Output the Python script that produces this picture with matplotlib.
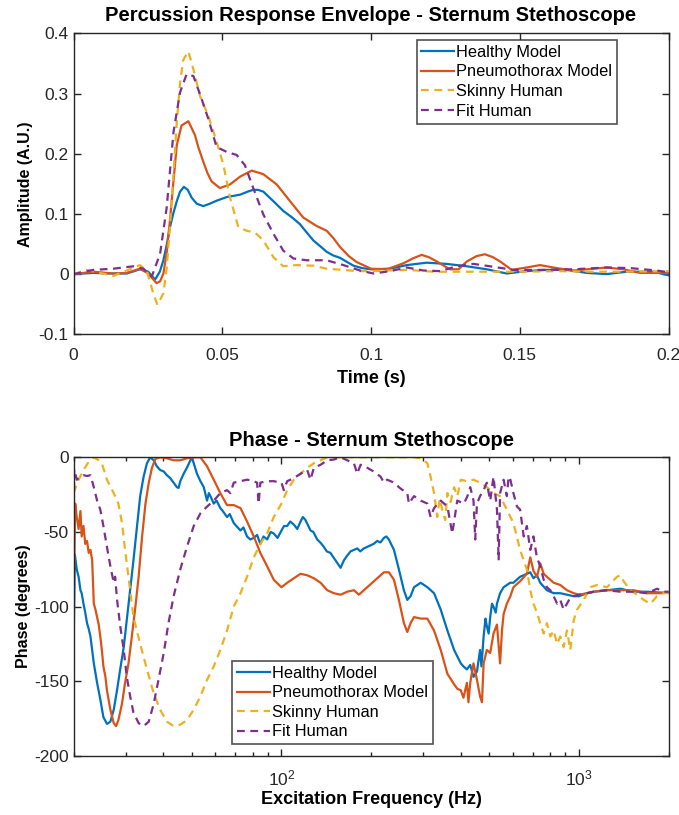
import matplotlib
matplotlib.use("Agg")
import matplotlib.pyplot as plt

# --- STYLE ---
plt.rcParams['font.family'] = ['Liberation Sans', 'DejaVu Sans']
plt.rcParams['axes.unicode_minus'] = False
C_BLUE = '#0072BD'
C_ORANGE = '#D95319'
C_YELLOW = '#EDB120'
C_PURPLE = '#7E2F8E'
AX_COL = '#262626'
DASH = (0, (3.5, 2.5))

labels = ['Healthy Model', 'Pneumothorax Model', 'Skinny Human', 'Fit Human']

# --- ENVELOPE DATA (time in s, amplitude A.U.) ---
t_healthy = [0, 0.0067, 0.0123, 0.0179, 0.0223, 0.0251, 0.0274, 0.0290, 0.0302, 0.0313,
             0.0324, 0.0336, 0.0347, 0.0358, 0.0371, 0.0384, 0.0397, 0.0414, 0.0436, 0.0458,
             0.0481, 0.0515, 0.0560, 0.0585, 0.0604, 0.0620, 0.0638, 0.0672, 0.0705, 0.0735,
             0.0761, 0.0784, 0.0806, 0.0830, 0.0851, 0.0873, 0.0896, 0.0920, 0.0941, 0.0970,
             0.1000, 0.1064, 0.1120, 0.1187, 0.1254, 0.1322, 0.1389, 0.1456, 0.1523, 0.1591,
             0.1658, 0.1725, 0.1792, 0.1859, 0.1949, 0.2000]
a_healthy = [0, 0.002, 0.001, 0.001, 0.008, 0.004, -0.009, 0.004, 0.023, 0.048,
             0.078, 0.102, 0.121, 0.137, 0.145, 0.140, 0.127, 0.117, 0.113, 0.117,
             0.122, 0.128, 0.132, 0.137, 0.140, 0.140, 0.137, 0.121, 0.105, 0.094,
             0.083, 0.069, 0.056, 0.046, 0.037, 0.031, 0.027, 0.020, 0.014, 0.010,
             0.008, 0.009, 0.015, 0.019, 0.017, 0.013, 0.008, 0.001, 0.005, 0.007,
             0.007, 0.002, 0.0, 0.004, 0.004, -0.002]

t_pneumo = [0, 0.0067, 0.0134, 0.0179, 0.0223, 0.0251, 0.0279, 0.0291, 0.0302, 0.0313,
            0.0324, 0.0336, 0.0347, 0.0363, 0.0386, 0.0408, 0.0420, 0.0436, 0.0450, 0.0464,
            0.0492, 0.0526, 0.0560, 0.0599, 0.0638, 0.0683, 0.0728, 0.0772, 0.0817, 0.0851,
            0.0873, 0.0896, 0.0925, 0.0952, 0.1000, 0.1053, 0.1109, 0.1140, 0.1170, 0.1195,
            0.1221, 0.1265, 0.1294, 0.1322, 0.1355, 0.1383, 0.1410, 0.1434, 0.1473, 0.1523,
            0.1568, 0.1624, 0.1680, 0.1748, 0.1792, 0.1848, 0.1904, 0.2000]
a_pneumo = [0, 0.004, 0.001, 0.002, 0.009, 0.001, -0.015, -0.012, 0.001, 0.035,
            0.089, 0.155, 0.214, 0.247, 0.254, 0.231, 0.210, 0.187, 0.168, 0.154,
            0.143, 0.149, 0.162, 0.172, 0.166, 0.149, 0.121, 0.094, 0.080, 0.072,
            0.060, 0.045, 0.030, 0.020, 0.009, 0.008, 0.018, 0.026, 0.032, 0.028,
            0.021, 0.008, 0.008, 0.021, 0.030, 0.033, 0.028, 0.021, 0.007, 0.011,
            0.015, 0.010, 0.006, 0.009, 0.011, 0.008, 0.002, 0.002]

t_skinny = [0, 0.0044, 0.0089, 0.0134, 0.0179, 0.0223, 0.0246, 0.0268, 0.0282, 0.0302,
            0.0313, 0.0324, 0.0336, 0.0347, 0.0358, 0.0369, 0.0386, 0.0403, 0.0425, 0.0453,
            0.0481, 0.0504, 0.0526, 0.0554, 0.0582, 0.0610, 0.0638, 0.0672, 0.0705, 0.0750,
            0.0806, 0.0851, 0.0907, 0.0952, 0.1008, 0.1120, 0.1210, 0.1288, 0.1400, 0.1512,
            0.1624, 0.1736, 0.1848, 0.2000]
a_skinny = [0, 0.007, 0.002, -0.003, 0.006, 0.015, 0.006, -0.032, -0.051, -0.032,
            0.010, 0.078, 0.165, 0.252, 0.318, 0.356, 0.370, 0.340, 0.296, 0.263,
            0.220, 0.181, 0.127, 0.078, 0.072, 0.069, 0.056, 0.028, 0.013, 0.015,
            0.014, 0.009, 0.007, 0.005, 0.005, 0.007, 0.004, 0.004, 0.004, 0.004,
            0.005, 0.004, 0.004, 0.005]

t_fit = [0, 0.0067, 0.0134, 0.0201, 0.0235, 0.0263, 0.0291, 0.0313, 0.0336, 0.0358,
         0.0380, 0.0403, 0.0425, 0.0453, 0.0481, 0.0515, 0.0548, 0.0576, 0.0604, 0.0638,
         0.0672, 0.0705, 0.0739, 0.0784, 0.0851, 0.0907, 0.0963, 0.1008, 0.1064, 0.1120,
         0.1176, 0.1232, 0.1288, 0.1344, 0.1400, 0.1479, 0.1568, 0.1680, 0.1792, 0.1871,
         0.1960, 0.2000]
a_fit = [0.0, 0.007, 0.009, 0.013, 0.009, -0.004, 0.034, 0.110, 0.236, 0.302,
         0.332, 0.329, 0.299, 0.258, 0.211, 0.203, 0.198, 0.181, 0.143, 0.099,
         0.067, 0.039, 0.026, 0.023, 0.023, 0.015, 0.006, 0.001, 0.005, 0.011,
         0.006, 0.005, 0.013, 0.017, 0.013, 0.007, 0.007, 0.008, 0.011, 0.010,
         0.006, 0.003]

# --- PHASE DATA (frequency in Hz, phase in degrees) ---
f_healthy = [20.0, 20.2, 20.5, 20.8, 21.1, 21.3, 21.6, 21.9, 22.2, 22.5,
             22.8, 23.1, 23.4, 24.0, 24.6, 25.2, 25.9, 26.6, 27.3, 28.0,
             28.7, 29.5, 30.2, 31.0, 31.8, 32.7, 33.5, 34.4, 35.3, 36.2,
             37.2, 38.1, 39.1, 40.2, 41.2, 42.3, 43.4, 44.5, 45.1, 45.7,
             46.9, 48.1, 49.4, 50.0, 50.7, 52.0, 53.4, 54.8, 56.2, 57.0,
             57.7, 59.2, 60.5, 62.3, 63.5, 65.6, 67.0, 69.1, 70.5, 72.8,
             74.5, 76.6, 78.5, 80.7, 82.8, 84.9, 87.0, 89.5, 92.0, 94.2,
             97.0, 100, 102, 104.5, 107, 110, 113, 115.9, 118, 120.4,
             125.2, 128, 131.8, 135, 138.8, 142, 146.1, 151.9, 158, 162.1,
             166, 170.7, 175, 179.7, 184, 189.2, 194, 199.3, 204, 209.8,
             215, 220.9, 225, 229.6, 238.8, 248.1, 257.9, 264.8, 271.6, 278.9,
             293.7, 309.3, 325.7, 343, 361.2, 380.4, 400.6, 409, 420, 431,
             442, 454, 465, 470, 478, 485, 490, 497, 503, 510,
             516, 525, 530, 543, 558, 572, 587, 602, 618, 634,
             651, 668, 686, 703, 722, 741, 780, 822, 865, 911,
             960, 1000, 1064, 1121, 1242, 1377, 1527, 1694, 1878, 2000]
p_healthy = [-131, -65, -75, -80, -89, -91, -98, -104, -111, -115,
             -120, -129, -138, -151, -162, -174, -178.5, -177, -169, -156,
             -142, -127, -109, -89, -69, -46, -26, -13, -4, 0,
             -2, -6, -8.5, -9.5, -12, -14, -17, -20, -20.5, -16,
             -11, -7, -2, 0, -4, -11, -16, -20, -29, -24,
             -26, -31, -29, -34, -36, -40, -38, -44, -46, -49,
             -47, -53, -55, -54, -52, -58, -53, -55, -50, -51,
             -54, -49, -46, -46, -43, -45, -48, -43, -40, -42,
             -49, -50, -55, -57, -60, -63, -64, -69, -74, -69,
             -66, -63, -62, -61, -63, -61, -60, -59, -58, -56,
             -57, -54, -53, -55, -62, -75, -89, -95.5, -93, -87,
             -84, -87, -91, -102, -116, -129, -138, -140, -142, -139,
             -147, -143.5, -129, -140, -120, -108, -113, -118, -107, -98,
             -100, -104, -98, -91, -87, -85.5, -84, -84, -82, -80,
             -79, -78, -77, -81, -79, -84, -89, -91, -91, -92,
             -93, -93, -91, -90, -89, -88, -90, -90, -90.6, -90.6]

f_pneumo = [20.0, 20.26, 20.5, 20.8, 21.1, 21.3, 21.6, 21.9, 22.2, 22.5,
            22.8, 23.1, 23.4, 23.7, 24.0, 24.3, 24.6, 24.9, 25.2, 25.6,
            25.9, 26.6, 27.3, 27.8, 28.3, 29.1, 29.8, 30.6, 31.4, 32.2,
            33.1, 34.0, 34.9, 35.8, 36.7, 37.7, 39.1, 41.2, 43.4, 45.7,
            48.1, 50.7, 53.4, 56.2, 59.2, 62.3, 65.6, 69.1, 72.8, 76.6,
            80.7, 84.9, 89.5, 94.2, 100, 104.5, 110, 115.9, 122, 128.5,
            135.3, 142.5, 150, 158, 166.3, 175.2, 182, 189.2, 199.3, 209.8,
            220.9, 229.6, 238.8, 248.1, 257.9, 264.8, 271.6, 278.9, 293.7, 309.3,
            325.7, 343, 361.2, 380.4, 390, 400.6, 409, 420, 425, 431,
            442, 454, 465, 472, 478, 490, 503, 516, 530, 543,
            551, 558, 572, 588, 602, 634, 668, 686, 703, 722,
            741, 761, 780, 822, 865, 911, 960, 1000, 1064, 1121,
            1242, 1377, 1527, 1694, 1878, 2000]
p_pneumo = [-100, -31, -40, -48, -36, -53, -46, -58, -56, -64,
            -62, -69, -98, -102, -107, -112, -120, -129, -140, -147,
            -156, -169, -178, -180, -176, -165, -151, -138, -120, -102,
            -80, -53, -31, -17, -7, -1, 0, -0.7, -2, -2,
            -0.7, 0, 0, -6, -15, -24, -32, -32, -34, -43,
            -53, -64, -73, -82, -87, -84, -81, -78, -79, -81,
            -84, -89, -91, -92, -90, -89, -92, -89, -85, -81,
            -77, -77, -82, -95.5, -111, -117, -111, -107, -108, -108,
            -116, -129, -145, -152, -155, -156, -161, -151, -164, -151,
            -138, -149, -160, -164, -138, -129, -131, -118, -112, -138,
            -116, -105, -98, -93, -87, -83, -78, -67, -76, -80,
            -71, -78, -80, -84, -85.5, -89, -91, -92, -91, -90,
            -89, -89, -89, -91, -91, -90.6]

f_skinny = [20.0, 20.8, 21.6, 22.5, 23.4, 24.3, 24.9, 25.9, 27.3, 28.3,
            29.1, 29.8, 30.6, 31.8, 33.5, 35.3, 37.2, 39.1, 41.2, 43.4,
            45.7, 48.1, 50.7, 53.4, 56.2, 59.2, 62.3, 65.6, 69.1, 72.8,
            76.6, 80.7, 84.9, 89.5, 94.2, 100, 104.5, 110, 115.9, 122,
            128.5, 135.3, 142.5, 158, 184.5, 215.4, 251.5, 278.9, 293.7, 309.3,
            317.1, 325.7, 333.9, 340, 347.1, 355, 361.2, 370, 380.4, 390,
            400.6, 420, 442, 465, 490, 516, 543, 572, 602, 634,
            652, 668, 686, 703, 722, 741, 761, 780, 801, 822,
            844, 865, 888, 911, 935, 960, 985, 1037, 1092, 1149,
            1242, 1342, 1377, 1413, 1488, 1567, 1650, 1738, 1830, 1927, 2000]
p_skinny = [-24, -15, -8.5, -3, 0, -2, -4, -15, -24, -31,
            -44, -62, -80, -107, -125, -142, -158, -169, -177, -180,
            -179, -176, -169, -160, -149, -140, -129, -116, -100, -91,
            -80, -67, -58, -51, -40, -31, -22, -15, -11, -7,
            -4, -2, 0, 0, 0, 0, 0, 0, -0.7, -4,
            -13, -24, -40, -28, -35, -42, -24, -30, -20, -26,
            -15, -16, -15, -17, -20, -24, -26, -35, -44, -62,
            -69, -75, -89, -98, -104, -111, -118, -111, -120, -116,
            -125, -120, -127, -116, -129, -109, -102, -95.5, -87, -85.5,
            -87, -80, -79, -83, -89, -92, -95.5, -98, -93, -91, -91]

f_fit = [20.0, 20.1, 20.5, 21.1, 21.6, 22.2, 22.8, 23.4, 24.0, 24.6,
         25.2, 25.9, 26.6, 27.3, 27.6, 28.0, 28.7, 29.5, 30.2, 31.0,
         31.8, 33.1, 34.4, 35.8, 37.2, 38.6, 40.2, 41.7, 43.4, 45.7,
         48.1, 50.7, 53.4, 56.2, 59.2, 62.3, 65.6, 67.3, 69.1, 72.8,
         76.6, 79.6, 82.8, 83.8, 84.9, 89.4, 94.2, 100, 101.8, 104.5,
         110, 115.9, 122, 125.2, 128.5, 135.3, 142.5, 150, 158, 166.3,
         175.2, 179.7, 184.5, 194.2, 204.5, 215.4, 220.9, 226.8, 238.8, 251.5,
         264.8, 268.1, 278.9, 293.7, 309.3, 317.1, 325.7, 343, 361.2, 375,
         389.8, 410.5, 421.8, 431, 442, 448, 454, 465, 478, 490,
         503, 516, 530, 537, 543, 558, 572, 580, 588, 602,
         619, 634, 652, 668, 686, 703, 722, 741, 761, 780,
         801, 822, 844, 865, 888, 911, 935, 960, 1000, 1064,
         1121, 1242, 1377, 1527, 1694, 1830, 1927, 2000]
p_fit = [-58, -8, -15, -13, -12, -12.5, -12, -20, -29, -35,
         -46, -60, -73, -84, -80, -95, -113, -129, -147, -160,
         -171, -178, -180, -177, -165, -149, -131, -111, -93, -75,
         -60, -46, -37.5, -33, -29, -24, -22, -24, -17, -16,
         -15, -15.5, -17, -31, -17, -16, -16, -17, -22, -16,
         -14, -11, -8.5, -15, -7, -5, -2, -1.5, 0, -2,
         -4, -11, -5, -7, -9.6, -13, -17, -15, -17, -21,
         -24, -31, -26, -29, -31, -40, -34, -29, -33, -51,
         -29, -31, -26, -20, -29, -55, -31, -26, -22, -17,
         -29, -13, -35, -69, -24, -15, -26, -13, -15, -24,
         -33, -35, -53, -46, -62, -53, -67, -73, -82, -87,
         -89, -93, -98, -95.5, -102, -98, -94, -93, -92, -91,
         -90, -89, -90, -90, -91, -88, -90, -90]

# axis ticks
env_yticks = [-0.1, 0, 0.1, 0.2, 0.3, 0.4]
env_ylabels = ['-0.1', '0', '0.1', '0.2', '0.3', '0.4']
env_xticks = [0, 0.05, 0.1, 0.15, 0.2]
env_xlabels = ['0', '0.05', '0.1', '0.15', '0.2']
ph_yticks = [-200, -150, -100, -50, 0]


def style_axes(ax, xpad):
    for s in ax.spines.values():
        s.set_color(AX_COL)
        s.set_linewidth(1.0)
    ax.tick_params(which='both', direction='in', top=True, right=True,
                   colors=AX_COL, labelcolor=AX_COL, labelsize=12.5, width=1.0)
    ax.tick_params(which='major', length=5)
    ax.tick_params(which='minor', length=3)
    ax.tick_params(axis='x', which='both', pad=xpad)


def add_legend(ax, corner, anchor):
    leg = ax.legend(loc=corner, bbox_to_anchor=anchor, fontsize=11.8,
                    frameon=True, fancybox=False, edgecolor=AX_COL, borderpad=0.3,
                    labelspacing=0.28, handlelength=2.0, handletextpad=0.1,
                    borderaxespad=0)
    leg.get_frame().set_linewidth(1.2)
    return leg


fig = plt.figure(figsize=(6.79, 8.15), dpi=100)

# --- Top: envelope ---
ax1 = fig.add_axes([0.1083, 0.5898, 0.8763, 0.3693])
ax1.plot(t_healthy, a_healthy, color=C_BLUE, lw=1.6, label=labels[0])
ax1.plot(t_pneumo, a_pneumo, color=C_ORANGE, lw=1.6, label=labels[1])
ax1.plot(t_skinny, a_skinny, color=C_YELLOW, lw=1.6, ls=DASH, label=labels[2])
ax1.plot(t_fit, a_fit, color=C_PURPLE, lw=1.6, ls=DASH, label=labels[3])
ax1.set_xlim(0, 0.2)
ax1.set_ylim(-0.1, 0.4)
ax1.set_xticks(env_xticks)
ax1.set_xticklabels(env_xlabels)
ax1.set_yticks(env_yticks)
ax1.set_yticklabels(env_ylabels)
style_axes(ax1, 10)
ax1.set_title('Percussion Response Envelope - Sternum Stethoscope',
              fontsize=14.5, fontweight='bold', pad=9)
ax1.set_xlabel('Time (s)', fontsize=13, fontweight='bold', labelpad=5)
ax1.set_ylabel('Amplitude (A.U.)', fontsize=11.5, fontweight='bold', labelpad=4)
add_legend(ax1, 'upper right', (0.913, 0.978))

# --- Bottom: phase ---
ax2 = fig.add_axes([0.1083, 0.0724, 0.8763, 0.3665])
ax2.semilogx(f_healthy, p_healthy, color=C_BLUE, lw=1.6, label=labels[0])
ax2.semilogx(f_pneumo, p_pneumo, color=C_ORANGE, lw=1.6, label=labels[1])
ax2.semilogx(f_skinny, p_skinny, color=C_YELLOW, lw=1.6, ls=DASH, label=labels[2])
ax2.semilogx(f_fit, p_fit, color=C_PURPLE, lw=1.6, ls=DASH, label=labels[3])
ax2.set_xlim(20, 2000)
ax2.set_ylim(-200, 0)
ax2.set_yticks(ph_yticks)
style_axes(ax2, 9)
ax2.set_title('Phase - Sternum Stethoscope', fontsize=14.5, fontweight='bold', pad=8)
ax2.set_xlabel('Excitation Frequency (Hz)', fontsize=13, fontweight='bold', labelpad=2)
ax2.set_ylabel('Phase (degrees)', fontsize=11.5, fontweight='bold', labelpad=2)
add_legend(ax2, 'lower left', (0.267, 0.039))

fig.savefig('out.png', dpi=100)
